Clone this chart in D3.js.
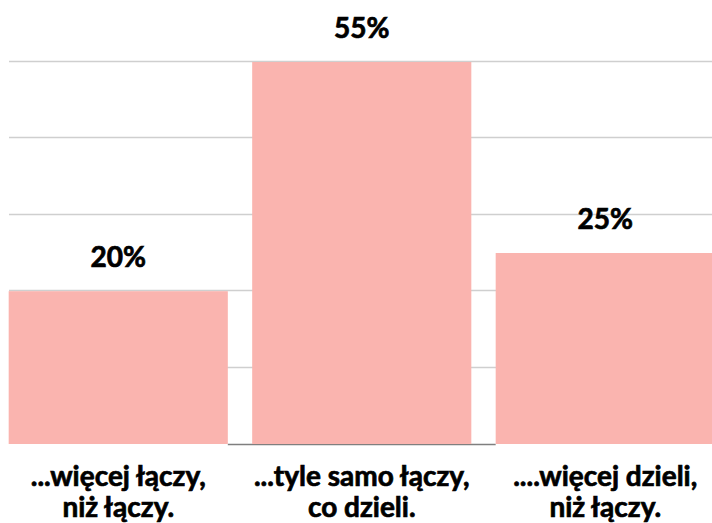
<!DOCTYPE html>
<html><head><meta charset="utf-8">
<script src="https://cdn.jsdelivr.net/npm/d3@7"></script>
<style>body{margin:0;background:#fff}svg{display:block}</style>
</head><body>
<script>
const categories = [["...więcej łączy,", "niż łączy."], ["...tyle samo łączy,", "co dzieli."], ["....więcej dzieli,", "niż łączy."]];
const values = [20, 55, 25];
const valueLabels = ["20%", "55%", "25%"];
const yTicks = [0, 10, 20, 30, 40, 50];

const W = 712, H = 523;
const svg = d3.select("body").append("svg").attr("width", W).attr("height", H);
const font = "Lato, sans-serif";

const ids = categories.map((c, i) => i);
const x = d3.scaleBand().domain(ids).range([-3.5, 727]).paddingInner(0.1).paddingOuter(0.05);
const y = d3.scaleLinear().domain([0, 50]).range([444, 62]).clamp(true);

// gridlines
svg.append("g").selectAll("line").data(yTicks.slice(1)).join("line")
  .attr("x1", 9).attr("x2", W)
  .attr("y1", d => Math.round(y(d)) - 0.5).attr("y2", d => Math.round(y(d)) - 0.5)
  .attr("stroke", "#cfcfcf").attr("stroke-width", 1.3);

// axis line
svg.append("line")
  .attr("x1", x(0) + x.bandwidth()).attr("x2", x(2))
  .attr("y1", y(0) + 0.5).attr("y2", y(0) + 0.5)
  .attr("stroke", "#7f7f7f").attr("stroke-width", 1.5);

// bars
svg.append("g").selectAll("rect").data(values).join("rect")
  .attr("x", (d, i) => x(i)).attr("width", x.bandwidth())
  .attr("y", d => y(d)).attr("height", d => y(0) - y(d))
  .attr("fill", "#fab4af");

// value labels
svg.append("g").selectAll("text").data(values).join("text")
  .attr("x", (d, i) => x(i) + x.bandwidth() / 2)
  .attr("y", d => y(d) - 24)
  .attr("text-anchor", "middle")
  .attr("font-family", font).attr("font-weight", 700).attr("font-size", 28)
  .attr("fill", "#000").attr("stroke", "#000").attr("stroke-width", 0.7)
  .text((d, i) => valueLabels[i]);

// category labels
const cl = svg.append("g").selectAll("text").data(categories).join("text")
  .attr("text-anchor", "middle")
  .attr("font-family", font).attr("font-weight", 700).attr("font-size", 28)
  .attr("fill", "#000").attr("stroke", "#000").attr("stroke-width", 0.7);
cl.each(function(lines, i) {
  d3.select(this).selectAll("tspan").data(lines).join("tspan")
    .attr("x", x(i) + x.bandwidth() / 2)
    .attr("y", (l, j) => 486 + j * 31)
    .text(l => l);
});
</script>
</body></html>
